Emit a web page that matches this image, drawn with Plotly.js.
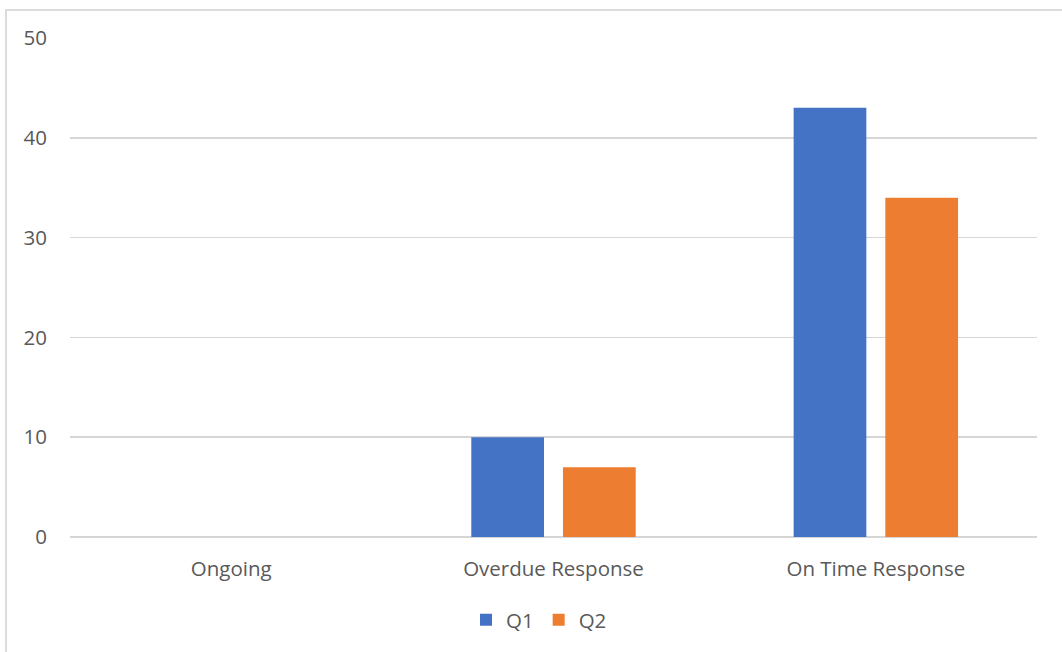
<!DOCTYPE html>
<html>
<head>
<meta charset="utf-8">
<script src="https://cdn.plot.ly/plotly-3.0.1.min.js"></script>
<style>
  html, body { margin: 0; padding: 0; background: #fff; }
  #wrap { position: relative; width: 1062px; height: 652px; overflow: hidden; }
  #chart { position: absolute; left: 0; top: 0; width: 1062px; height: 652px; }
  #frame { position: absolute; left: 5px; top: 9px; width: 1100px; height: 700px;
           border-left: 2px solid #dcdcdc; border-top: 2px solid #dcdcdc; pointer-events: none; }
</style>
</head>
<body>
<div id="wrap">
  <div id="chart"></div>
  <div id="frame"></div>
</div>
<script>
// Response status counts per quarter
const categories = ["Ongoing", "Overdue Response", "On Time Response"];
const q1Values = [0, 10, 43];
const q2Values = [0, 7, 34];
const seriesNames = ["Q1", "Q2"];
const yTicks = [0, 10, 20, 30, 40, 50];

const textColor = "#595959";
const gridColor = "#d6d6d6";
const fontFamily = "'Open Sans', 'Noto Sans', sans-serif";
const labelSize = 20.5;

const traces = [
  { type: "bar", name: seriesNames[0], x: categories, y: q1Values,
    marker: { color: "#4472C4" }, hoverinfo: "x+y+name" },
  { type: "bar", name: seriesNames[1], x: categories, y: q2Values,
    marker: { color: "#ED7D31" }, hoverinfo: "x+y+name" }
];

const layout = {
  width: 1062,
  height: 652,
  margin: { l: 70, r: 25, t: 38, b: 115 },
  paper_bgcolor: "rgba(0,0,0,0)",
  plot_bgcolor: "#ffffff",
  barmode: "group",
  bargap: 0.431,
  bargroupgap: 0.207,
  font: { family: fontFamily, size: labelSize, color: textColor },
  xaxis: {
    type: "category",
    showgrid: false,
    showline: false,
    zeroline: false,
    ticks: "",
    ticklabelstandoff: 17,
    tickfont: { family: fontFamily, size: labelSize, color: textColor }
  },
  yaxis: {
    range: [0, 50],
    tickvals: yTicks,
    ticktext: yTicks.map(String),
    showgrid: true,
    gridcolor: gridColor,
    gridwidth: 1.5,
    zeroline: true,
    zerolinecolor: gridColor,
    zerolinewidth: 1.5,
    showline: false,
    ticks: "",
    ticklabelstandoff: 22,
    tickfont: { family: fontFamily, size: labelSize, color: textColor }
  },
  showlegend: true,
  legend: {
    orientation: "h",
    x: 0.485,
    xanchor: "center",
    y: -0.166,
    yanchor: "middle",
    font: { family: fontFamily, size: labelSize, color: textColor },
    itemwidth: 30,
    bgcolor: "rgba(0,0,0,0)"
  }
};

Plotly.newPlot("chart", traces, layout, { displayModeBar: false, staticPlot: true });
</script>
</body>
</html>
